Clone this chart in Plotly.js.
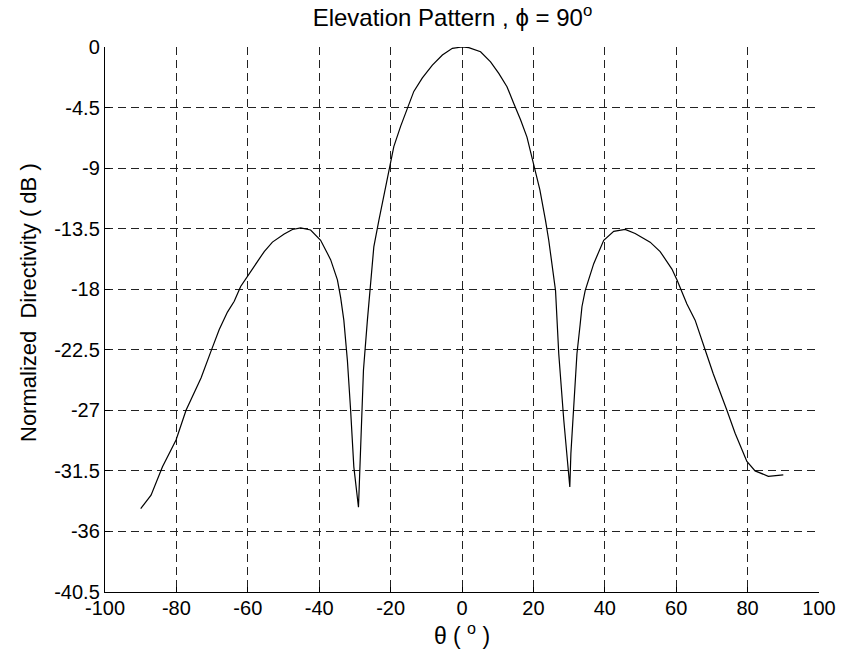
<!DOCTYPE html>
<html>
<head>
<meta charset="utf-8">
<script src="https://cdn.plot.ly/plotly-3.0.1.min.js"></script>
<style>html,body{margin:0;padding:0;background:#fff;}#chart{width:841px;height:664px;}</style>
</head>
<body>
<div id="chart"></div>
<script>
const theta = [-90, -87.1, -83.9, -81.5, -80.1, -77.3, -75.5, -73.1, -70.3, -68.0, -65.7, -63.8, -62.0, -60.1, -58.2, -55.4, -53.1, -49.8, -47.5, -45.2, -42.4, -39.6, -36.8, -34.9, -34.0, -33.1, -32.1, -31.2, -30.3, -29.0, -28.4, -27.6, -26.5, -25.8, -24.7, -23.3, -21.4, -20.5, -19.1, -17.2, -15.3, -13.5, -11.1, -8.3, -5.5, -2.7, 0, 1.9, 5.2, 8.0, 10.3, 12.6, 14.5, 16.4, 18.2, 20.3, 21.8, 23.4, 24.3, 26.2, 27.1, 28.5, 29.9, 30.2, 30.5, 31.3, 32.2, 33.1, 33.6, 34.5, 36.9, 39.7, 42.5, 45.7, 48.5, 52.7, 55.5, 58.8, 60.2, 63.0, 65.3, 68.1, 70.4, 74.2, 76.5, 79.8, 82.1, 85.8, 90];
const directivity = [-34.3, -33.3, -31.2, -30.0, -29.2, -27.0, -26.0, -24.6, -22.6, -21.0, -19.7, -18.9, -17.8, -17.0, -16.3, -15.2, -14.5, -13.9, -13.56, -13.44, -13.6, -14.36, -15.8, -17.3, -18.6, -20.3, -23.3, -27.0, -31.2, -34.2, -30.2, -24.0, -20.3, -18.1, -14.85, -12.9, -10.4, -9.0, -7.4, -5.9, -4.5, -3.3, -2.3, -1.34, -0.6, -0.1, 0, -0.05, -0.35, -1.1, -1.96, -2.95, -4.2, -5.4, -6.7, -9.0, -10.6, -12.9, -14.36, -18.1, -22.8, -27.7, -31.7, -32.7, -30.2, -27.0, -22.8, -20.6, -19.3, -18.1, -16.1, -14.36, -13.7, -13.56, -13.86, -14.5, -15.2, -16.5, -17.3, -19.1, -20.3, -22.5, -24.3, -27.0, -28.7, -30.8, -31.5, -31.9, -31.8];
const xTicks = [-100, -80, -60, -40, -20, 0, 20, 40, 60, 80, 100];
const yTicks = [0, -4.5, -9, -13.5, -18, -22.5, -27, -31.5, -36, -40.5];
const yTickText = ['0', '-4.5', '-9', '-13.5', '-18', '-22.5', '-27', '-31.5', '-36', '-40.5'];

const font = 'Liberation Sans, Arial, sans-serif';
const trace = {
  x: theta, y: directivity, type: 'scatter', mode: 'lines',
  line: {color: '#000', width: 1.2}, hoverinfo: 'skip'
};
const axisCommon = {
  showline: true, linecolor: '#000', linewidth: 1.2,
  ticks: 'inside', ticklen: 5, tickcolor: '#000', tickwidth: 1,
  showgrid: true, gridcolor: '#222', gridwidth: 1, griddash: '8px,5px',
  zeroline: false, mirror: false,
  tickfont: {family: font, size: 20, color: '#000'}
};
const layout = {
  width: 841, height: 664,
  margin: {l: 105, r: 22, t: 47, b: 72},
  paper_bgcolor: '#fff', plot_bgcolor: '#fff',
  showlegend: false,
  title: {text: 'Elevation Pattern , \u03d5 = 90<sup>o</sup>', font: {family: font, size: 24, color: '#000'}, x: 0.538, xanchor: 'center', y: 0.974, yanchor: 'middle'},
  xaxis: Object.assign({}, axisCommon, {
    range: [-100, 100], tickvals: xTicks, ticktext: xTicks.map(String),
    ticklabelstandoff: -2,
    title: {text: '\u03b8 ( <sup>o</sup> )', font: {family: font, size: 23, color: '#000'}, standoff: 6}
  }),
  yaxis: Object.assign({}, axisCommon, {
    range: [-40.5, 0], tickvals: yTicks, ticktext: yTickText
  }),
  annotations: [{
    text: 'Normalized  Directivity ( dB )', textangle: -90,
    xref: 'paper', yref: 'paper',
    x: (28 - 105) / (841 - 105 - 22), y: (592 - 303) / (592 - 47),
    xanchor: 'center', yanchor: 'middle', showarrow: false,
    font: {family: font, size: 22, color: '#000'}
  }]
};
Plotly.newPlot('chart', [trace], layout, {staticPlot: true, displayModeBar: false});
</script>
</body>
</html>
